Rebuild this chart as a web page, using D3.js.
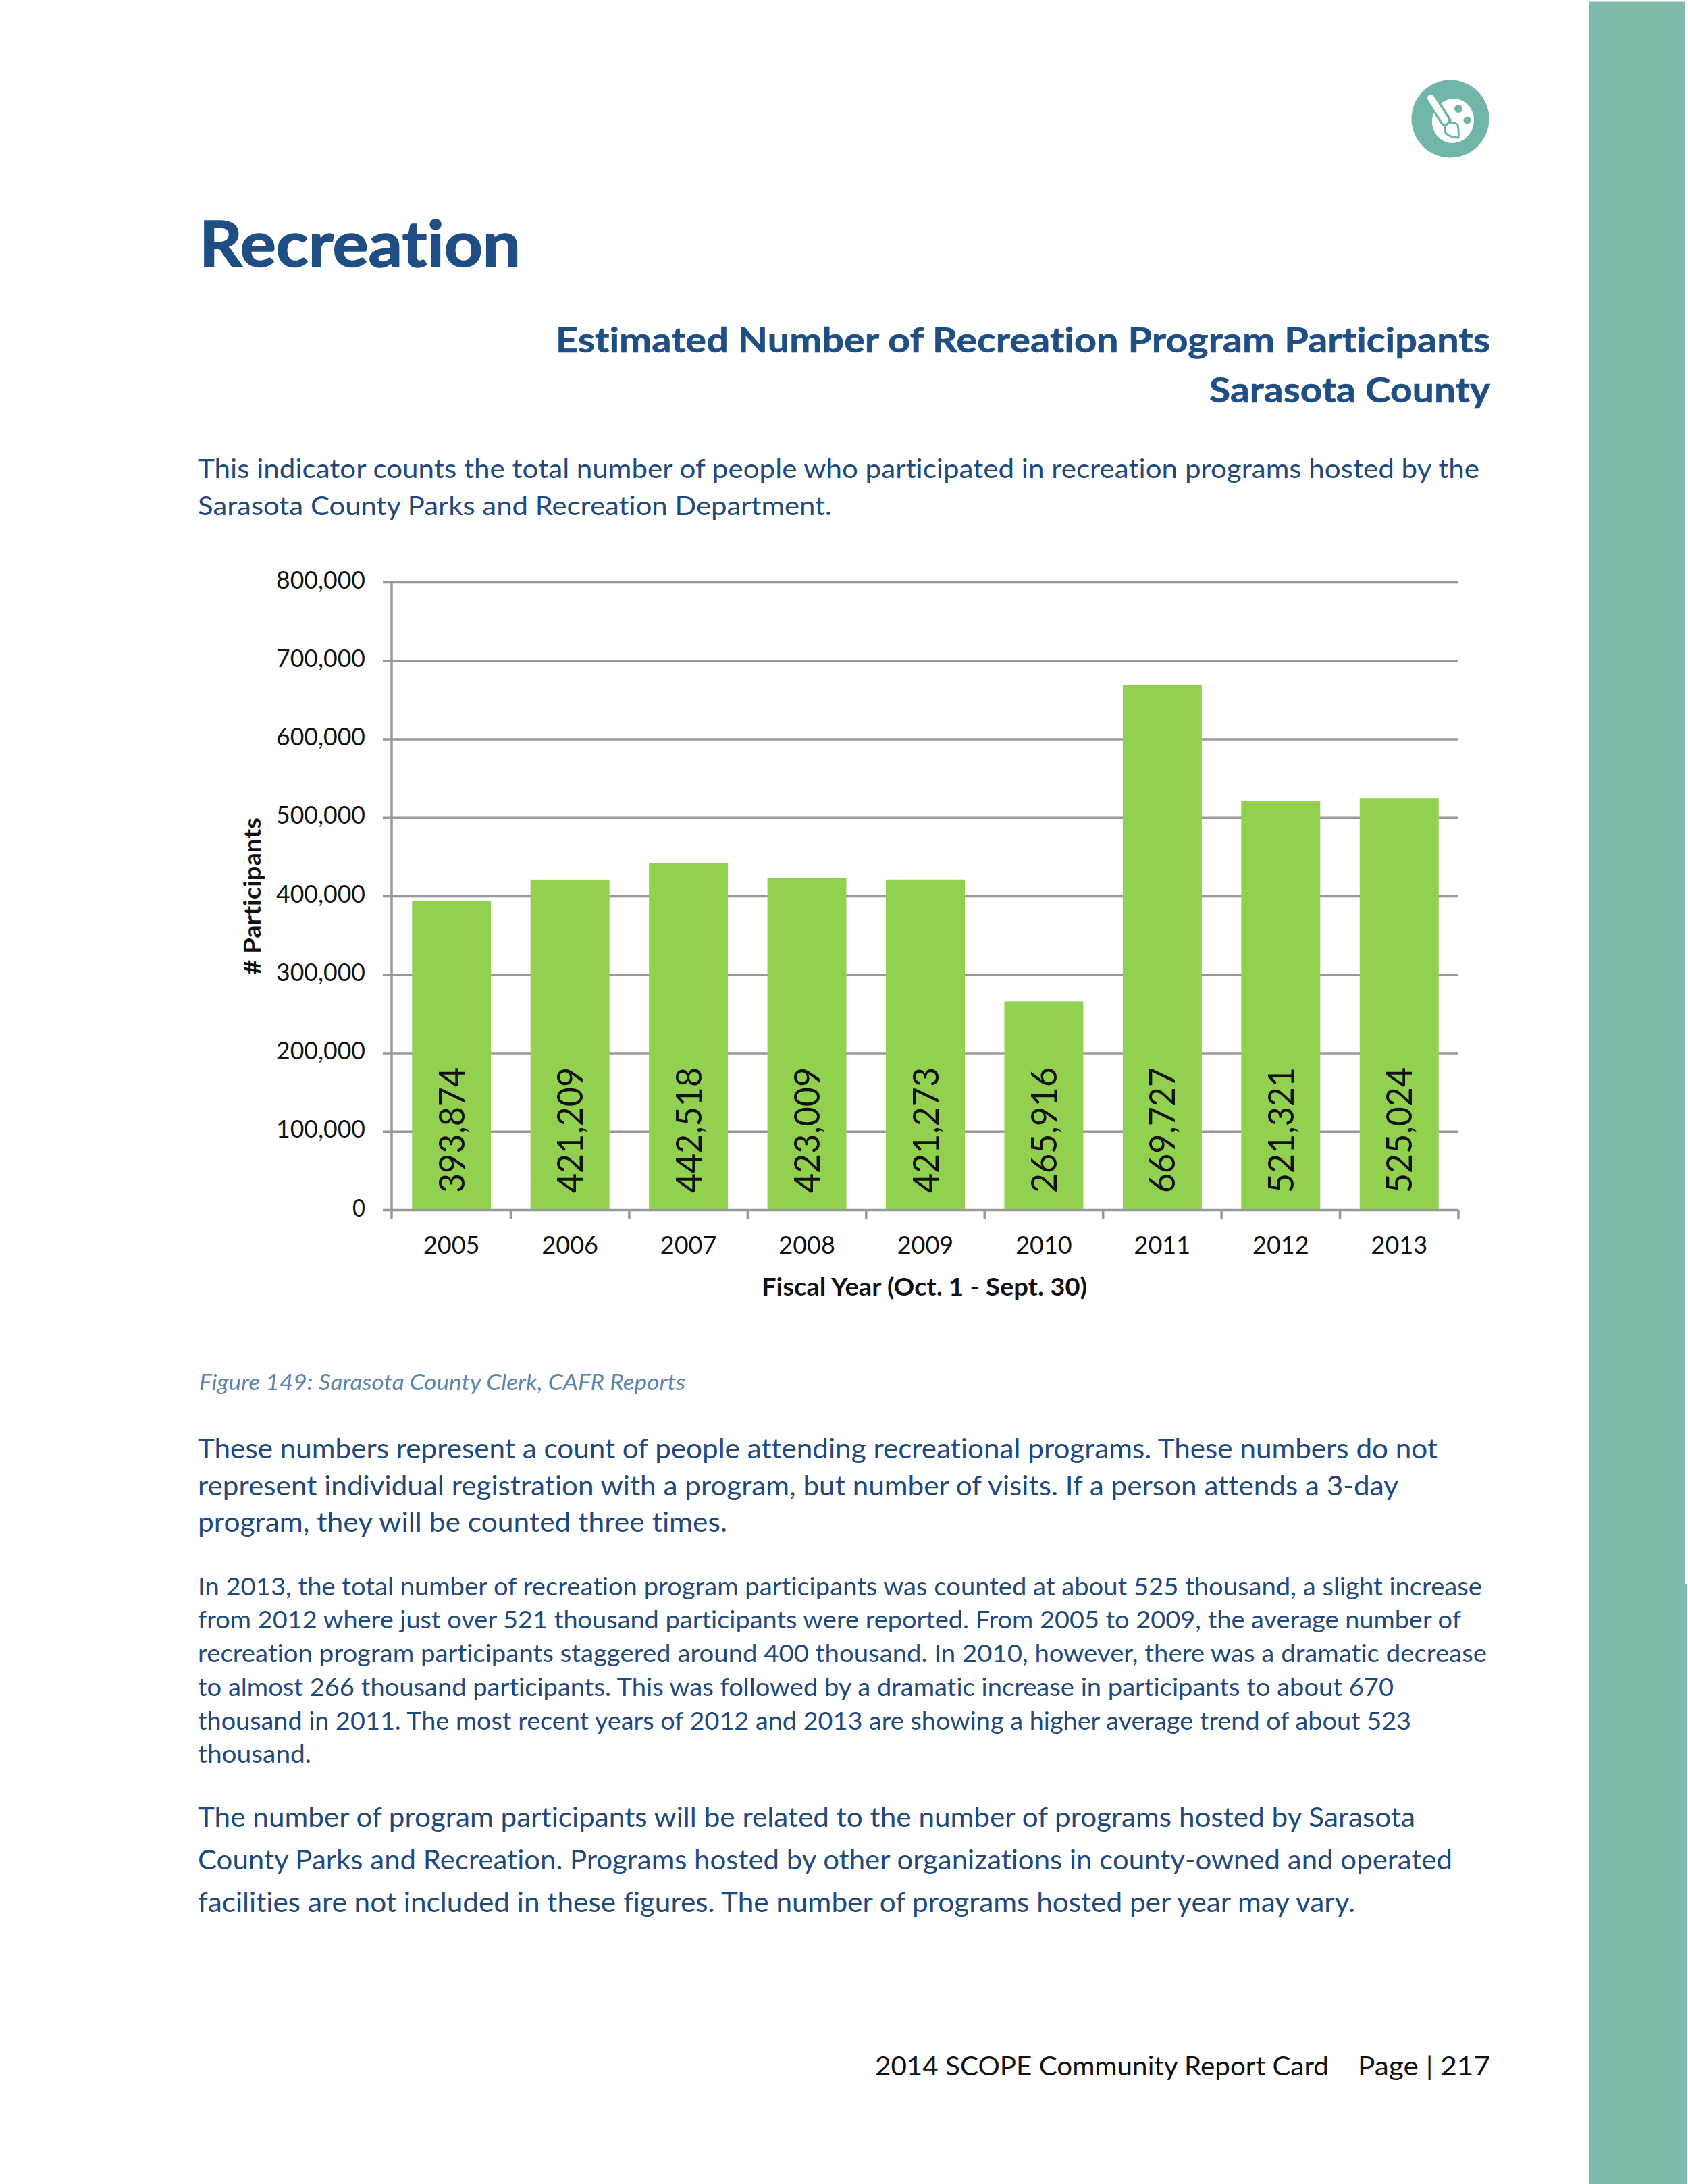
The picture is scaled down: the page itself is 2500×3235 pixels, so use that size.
<!DOCTYPE html>
<html><head><meta charset="utf-8">
<style>html,body{margin:0;padding:0;background:#fff}svg{display:block}text{font-family:Lato,"Open Sans",sans-serif;font-variant-ligatures:none;font-kerning:normal}</style>
<script src="https://cdn.jsdelivr.net/npm/d3@7"></script></head><body>
<script>
const years=["2005","2006","2007","2008","2009","2010","2011","2012","2013"];
const participants=[393874,421209,442518,423009,421273,265916,669727,521321,525024];
const yTicks=[0,100000,200000,300000,400000,500000,600000,700000,800000];
const navy="#1f497d";
const pageLines=[
 {t:"Recreation",x0:295,x1:771,y:395,s:94,w:700,c:"#1f4e85",b:1.6},
 {t:"Estimated Number of Recreation Program Participants",x0:823,x1:2207,y:522,s:52,w:700,c:"#1f4e85",b:.6},
 {t:"Sarasota County",x0:1791,x1:2207,y:596,s:52,w:700,c:"#1f4e85",b:.6},
 {t:"This indicator counts the total number of people who participated in recreation programs hosted by the",x0:293,x1:2191,y:708,s:39,c:navy},
 {t:"Sarasota County Parks and Recreation Department.",x0:293,x1:1232,y:763,s:39,c:navy},
 {t:"Figure 149: Sarasota County Clerk, CAFR Reports",x0:295,x1:1015,y:2059,s:32,c:"#5b84b1",i:1},
 {t:"These numbers represent a count of people attending recreational programs. These numbers do not",x0:293,x1:2129,y:2160,s:41,c:navy},
 {t:"represent individual registration with a program, but number of visits. If a person attends a 3-day",x0:293,x1:2071,y:2215,s:41,c:navy},
 {t:"program, they will be counted three times.",x0:293,x1:1077,y:2269,s:41,c:navy},
 {t:"In 2013, the total number of recreation program participants was counted at about 525 thousand, a slight increase",x0:293,x1:2195,y:2363,s:36,c:navy},
 {t:"from 2012 where just over 521 thousand participants were reported. From 2005 to 2009, the average number of",x0:293,x1:2164,y:2412,s:36,c:navy},
 {t:"recreation program participants staggered around 400 thousand. In 2010, however, there was a dramatic decrease",x0:293,x1:2202,y:2462,s:36,c:navy},
 {t:"to almost 266 thousand participants. This was followed by a dramatic increase in participants to about 670",x0:293,x1:2064,y:2512,s:36,c:navy},
 {t:"thousand in 2011. The most recent years of 2012 and 2013 are showing a higher average trend of about 523",x0:293,x1:2090,y:2562,s:36,c:navy},
 {t:"thousand.",x0:293,x1:461,y:2611,s:36,c:navy},
 {t:"The number of program participants will be related to the number of programs hosted by Sarasota",x0:293,x1:2096,y:2706,s:41,c:navy},
 {t:"County Parks and Recreation. Programs hosted by other organizations in county-owned and operated",x0:293,x1:2151,y:2769,s:41,c:navy},
 {t:"facilities are not included in these figures. The number of programs hosted per year may vary.",x0:293,x1:2007,y:2832,s:41,c:navy},
 {t:"2014 SCOPE Community Report Card",x0:1296,x1:1968,y:3074,s:39,c:"#111"},
 {t:"Page | 217",x0:2011,x1:2207,y:3074,s:39,c:"#111"}
];
const W=2500,H=3235;
const svg=d3.select("body").append("svg").attr("width",W).attr("height",H).attr("viewBox",`0 0 ${W} ${H}`);
svg.append("rect").attr("width",W).attr("height",H).attr("fill","#fff");
// sidebar
svg.append("rect").attr("x",2354).attr("y",2.5).attr("width",141).attr("height",2345).attr("fill","#7dbbad");
svg.append("rect").attr("x",2354).attr("y",2347).attr("width",145).attr("height",H-2347).attr("fill","#7dbbad");
// icon
const teal="#70b5a6";
const ic=svg.append("g").attr("transform","translate(2148,176)");
ic.append("circle").attr("r",57.5).attr("fill",teal);
ic.append("ellipse").attr("cx",4).attr("cy",3).attr("rx",31).attr("ry",33).attr("fill","#fff").attr("transform","rotate(15 4 3)");
ic.append("path").attr("d","M-29,-31 L-7,3").attr("stroke",teal).attr("stroke-width",17).attr("stroke-linecap","round");
ic.append("path").attr("d","M-29,-31 L-8,2").attr("stroke","#fff").attr("stroke-width",10).attr("stroke-linecap","round");
ic.append("path").attr("d","M-8,12 C-3,3 6,4 11,9 C12,16 13,22 12,28 C4,28 -5,25 -8,19Z").attr("fill","#fff").attr("stroke",teal).attr("stroke-width",3);
ic.append("circle").attr("cx",12).attr("cy",-15).attr("r",6).attr("fill",teal);
ic.append("circle").attr("cx",25).attr("cy",2).attr("r",5.5).attr("fill",teal);
// page text
svg.append("g").selectAll("text").data(pageLines).join("text")
 .attr("x",d=>d.x0).attr("y",d=>d.y).attr("font-size",d=>d.s)
 .attr("font-weight",d=>d.w||400).attr("font-style",d=>d.i?"italic":"normal").attr("fill",d=>d.c)
 .attr("stroke",d=>d.b?d.c:"none").attr("stroke-width",d=>d.b||0)
 .attr("textLength",d=>d.x1-d.x0).attr("lengthAdjust","spacingAndGlyphs").text(d=>d.t);
// chart
const x=d3.scaleBand().domain(years).range([581,2160]).paddingInner(1/3).paddingOuter(1/6);
const y=d3.scaleLinear().domain([0,800000]).range([1792.5,862.5]);
const grey="#989898",sw=3.5;
const gy=svg.append("g");
gy.selectAll("line").data(yTicks).join("line").attr("x1",567).attr("x2",2160).attr("y1",y).attr("y2",y).attr("stroke",grey).attr("stroke-width",sw);
gy.append("line").attr("x1",580).attr("x2",580).attr("y1",y(800000)).attr("y2",1806).attr("stroke",grey).attr("stroke-width",sw);
const step=x.step();
svg.append("g").selectAll("line").data(d3.range(1,10)).join("line")
 .attr("x1",i=>581+i*step).attr("x2",i=>581+i*step).attr("y1",1793).attr("y2",1806).attr("stroke",grey).attr("stroke-width",sw);
svg.append("g").selectAll("text").data(yTicks).join("text")
 .attr("x",541).attr("y",d=>y(d)+9).attr("text-anchor","end").attr("font-size",36).attr("fill","#111")
 .attr("textLength",d=>d?132:19).attr("lengthAdjust","spacingAndGlyphs").text(d=>d3.format(",")(d));
svg.append("g").selectAll("rect").data(years).join("rect")
 .attr("x",d=>x(d)).attr("width",x.bandwidth()).attr("y",(d,i)=>y(participants[i])).attr("height",(d,i)=>1791-y(participants[i])).attr("fill","#92d050");
svg.append("g").selectAll("text").data(years).join("text")
 .attr("transform",(d,i)=>`translate(${x(d)+x.bandwidth()/2+19},1767) rotate(-90)`)
 .attr("font-size",53).attr("fill","#111").attr("textLength",186).attr("lengthAdjust","spacingAndGlyphs")
 .text((d,i)=>d3.format(",")(participants[i]));
svg.append("g").selectAll("text").data(years).join("text")
 .attr("x",d=>x(d)+x.bandwidth()/2).attr("y",1857).attr("text-anchor","middle").attr("font-size",36).attr("fill","#111").text(d=>d);
svg.append("text").attr("x",1128).attr("y",1919).attr("font-size",36).attr("font-weight",700).attr("fill","#111").attr("textLength",482).attr("lengthAdjust","spacingAndGlyphs").text("Fiscal Year (Oct. 1 - Sept. 30)");
svg.append("text").attr("transform","translate(386,1444) rotate(-90)").attr("font-size",34).attr("font-weight",700).attr("fill","#111").attr("textLength",233).attr("lengthAdjust","spacingAndGlyphs").text("# Participants");
</script></body></html>
